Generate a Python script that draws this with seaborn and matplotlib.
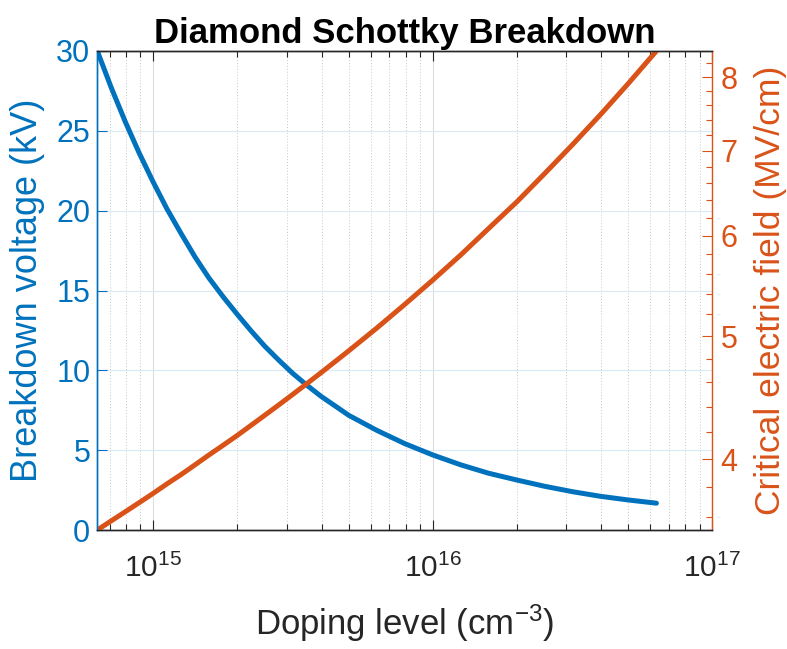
import numpy as np
import pandas as pd
import matplotlib
matplotlib.use("Agg")
import matplotlib.pyplot as plt
import seaborn as sns
from matplotlib.ticker import FixedLocator, NullFormatter

# Doping concentration (cm^-3)
doping_cm3 = [6.31e14, 7.08e14, 7.94e14, 8.91e14, 1.00e15, 1.12e15, 1.26e15,
              1.41e15, 1.58e15, 1.78e15, 2.00e15, 2.24e15, 2.51e15, 2.82e15,
              3.16e15, 3.55e15, 3.98e15, 5.01e15, 6.31e15, 7.94e15, 1.00e16,
              1.26e16, 1.58e16, 2.00e16, 2.51e16, 3.16e16, 3.98e16, 5.01e16,
              6.31e16]
# Breakdown voltage (kV)
breakdown_kv = [30.0, 27.7, 25.58, 23.61, 21.79, 20.11, 18.55,
                17.11, 15.8, 14.6, 13.5, 12.47, 11.5, 10.62,
                9.80, 9.06, 8.38, 7.18, 6.24, 5.41, 4.70,
                4.08, 3.56, 3.13, 2.74, 2.40, 2.11, 1.88,
                1.68]
# Critical electric field (MV/cm)
critical_field = [3.517, 3.576, 3.635, 3.696, 3.759, 3.824, 3.890,
                  3.958, 4.029, 4.102, 4.176, 4.253, 4.332, 4.415,
                  4.499, 4.588, 4.678, 4.869, 5.074, 5.296, 5.535,
                  5.794, 6.075, 6.380, 6.713, 7.076, 7.473, 7.909,
                  8.388]

x_major_ticks = [1e15, 1e16, 1e17]
x_major_labels = [r"$10^{15}$", r"$10^{16}$", r"$10^{17}$"]
left_ticks = [0, 5, 10, 15, 20, 25, 30]
right_ticks = [4, 5, 6, 7, 8]

BLUE = "#0072BD"
ORANGE = "#D95319"
DARK = "#262626"

sns.set_theme(style="white")
plt.rcParams["font.family"] = ["Liberation Sans", "DejaVu Sans"]
plt.rcParams["mathtext.default"] = "regular"

df = pd.DataFrame({"doping": doping_cm3, "vbr": breakdown_kv, "ec": critical_field})

W, H = 787, 649
fig = plt.figure(figsize=(W / 100, H / 100), dpi=100)
left, right, top, bottom = 97.3, 712.3, 51, 530
ax = fig.add_axes([left / W, 1 - bottom / H, (right - left) / W, (bottom - top) / H])
ax.set_xscale("log")
ax2 = ax.twinx()
ax2.set_yscale("log")

sns.lineplot(data=df, x="doping", y="vbr", ax=ax, color=BLUE, linewidth=3.6)
sns.lineplot(data=df, x="doping", y="ec", ax=ax2, color=ORANGE, linewidth=3.6)

# x axis (log)
ax.set_xlim(doping_cm3[0], 1e17)
ax.set_xticks(x_major_ticks, labels=x_major_labels)
minor_x = [k * 10.0 ** e for e in (14, 15, 16) for k in range(2, 10)]
minor_x = [v for v in minor_x if doping_cm3[0] < v < 1e17]
ax.xaxis.set_minor_locator(FixedLocator(minor_x))
ax.xaxis.set_minor_formatter(NullFormatter())
ax.tick_params(axis="x", which="both", direction="in", top=True, bottom=True,
               colors=DARK, labelcolor=DARK, labelsize=21.5, pad=17, width=0.8)
ax.tick_params(axis="x", which="major", length=7)
ax.tick_params(axis="x", which="minor", length=4)

# left y axis
ax.set_ylim(0, 30)
ax.set_yticks(left_ticks, labels=[str(t) for t in left_ticks])
ax.tick_params(axis="y", which="both", direction="in", left=True, right=False,
               colors=BLUE, labelsize=22, length=7, pad=5, width=0.8)

# right y axis (log)
ax2.set_ylim(critical_field[0], critical_field[-1])
ax2.set_yticks(right_ticks, labels=[str(t) for t in right_ticks])
minor_r = [round(v, 1) for v in np.arange(3.6, 8.4, 0.2) if abs(v - round(v)) > 1e-6]
ax2.yaxis.set_minor_locator(FixedLocator(minor_r))
ax2.yaxis.set_minor_formatter(NullFormatter())
ax2.tick_params(axis="y", which="both", direction="in", colors=ORANGE,
                labelsize=22, pad=6, width=0.8)
ax2.tick_params(axis="y", which="major", length=7)
ax2.tick_params(axis="y", which="minor", length=4)

# grid
ax.set_axisbelow(True)
ax.yaxis.grid(True, color="#d9eaf5", linewidth=0.8)
ax.xaxis.grid(True, which="major", color="#dcdcdc", linewidth=0.8)
ax.xaxis.grid(True, which="minor", color="#c8c8c8", linewidth=0.7, linestyle=(0, (1, 2)))
ax2.grid(False)

# spines
for a in (ax, ax2):
    for s in a.spines.values():
        s.set_linewidth(1.0)
    a.spines["top"].set_color(DARK)
    a.spines["bottom"].set_color(DARK)
    a.spines["left"].set_color(BLUE)
    a.spines["right"].set_color(ORANGE)
ax.spines["right"].set_visible(False)

ax.set_xlabel("Doping level (cm$^{-3}$)", fontsize=25, color=DARK, labelpad=14)
ax.set_ylabel("Breakdown voltage (kV)", fontsize=26, color=BLUE, labelpad=8)
ax2.set_ylabel("Critical electric field (MV/cm)", fontsize=25.5, color=ORANGE, labelpad=12)
ax.set_title("Diamond Schottky Breakdown", fontsize=25, fontweight="bold",
             color="black", pad=6)

fig.savefig("out.png", dpi=100)
